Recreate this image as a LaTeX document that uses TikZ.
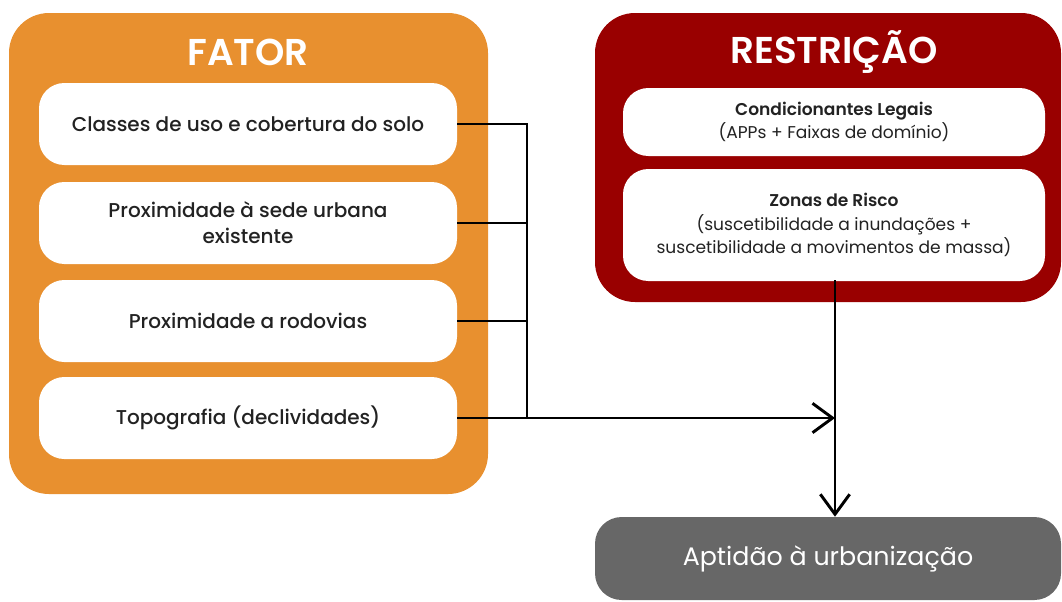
\documentclass[tikz,border=0pt]{standalone}
\usepackage{fontspec}
\setmainfont{Poppins Medium}[BoldFont={Poppins SemiBold}]
\newfontfamily\titlefont{Poppins SemiBold}
\newfontfamily\lightfont{Poppins}
\usetikzlibrary{arrows.meta}
\definecolor{fator}{HTML}{E8902F}
\definecolor{restr}{HTML}{990000}
\definecolor{aptg}{HTML}{676767}
\definecolor{txt}{HTML}{222222}
\tikzset{
  panel/.style={rounded corners=30pt, inner sep=0pt},
  whitebox/.style={fill=white, rounded corners=19pt, inner sep=0pt, align=center, text=txt},
  title/.style={text=white, font=\titlefont\fontsize{28}{30}\selectfont, inner sep=0pt},
  ftext/.style={font=\fontsize{15}{19.5}\selectfont},
  rtext/.style={font=\fontsize{12.8}{17.5}\selectfont},
  conn/.style={line width=2.2pt, black},
  arr/.style={conn, -{Straight Barb[length=15pt,width=22pt,line width=2.2pt]}}
}
\begin{document}
\begin{tikzpicture}[x=0.75pt,y=-0.75pt]
\useasboundingbox (0,0) rectangle (1062,601);
% panels
\node[panel, fill=fator, minimum width=359.25pt, minimum height=360.75pt] (fator) at (248.5,253.5) {};
\node[panel, fill=restr, minimum width=349.5pt, minimum height=216.75pt] (restr) at (828,157.5) {};
\node[panel, fill=aptg, rounded corners=20pt, minimum width=349.5pt, minimum height=62.25pt, text=white, font=\lightfont\fontsize{19}{22}\selectfont] (apt) at (828,558.5) {Aptidão à urbanização};
% titles
\node[title] (tf) at (248,52) {FATOR};
\node[title] (tr) at (834,52) {RESTRIÇÃO};
% factor boxes
\node[whitebox, ftext, minimum width=313.5pt, minimum height=61.5pt] (f1) at (248,124) {Classes de uso e cobertura do solo};
\node[whitebox, ftext, minimum width=313.5pt, minimum height=61.5pt] (f2) at (248,223) {Proximidade à sede urbana\\existente};
\node[whitebox, ftext, minimum width=313.5pt, minimum height=61.5pt] (f3) at (248,321) {Proximidade a rodovias};
\node[whitebox, ftext, minimum width=313.5pt, minimum height=61.5pt] (f4) at (248,418) {Topografia (declividades)};
% restriction boxes
\node[whitebox, rtext, minimum width=316.5pt, minimum height=51pt] (r1) at (834,122) {\textbf{Condicionantes Legais}\\{\lightfont (APPs + Faixas de domínio)}};
\node[whitebox, rtext, minimum width=316.5pt, minimum height=84pt] (r2) at (834,225) {\textbf{Zonas de Risco}\\{\lightfont (suscetibilidade a inundações +}\\{\lightfont suscetibilidade a movimentos de massa)}};
% connectors
\coordinate (bus) at (527,418);
\coordinate (join) at (835,418);
\coordinate (rbot) at (835,280);
\draw[conn] (f1.east) -- (f1.east -| bus) -- (bus);
\draw[conn] (f2.east) -- (f2.east -| bus);
\draw[conn] (f3.east) -- (f3.east -| bus);
\draw[arr] (f4.east) -- (join);
\draw[arr] (rbot) -- (rbot |- apt.north);
\end{tikzpicture}
\end{document}
